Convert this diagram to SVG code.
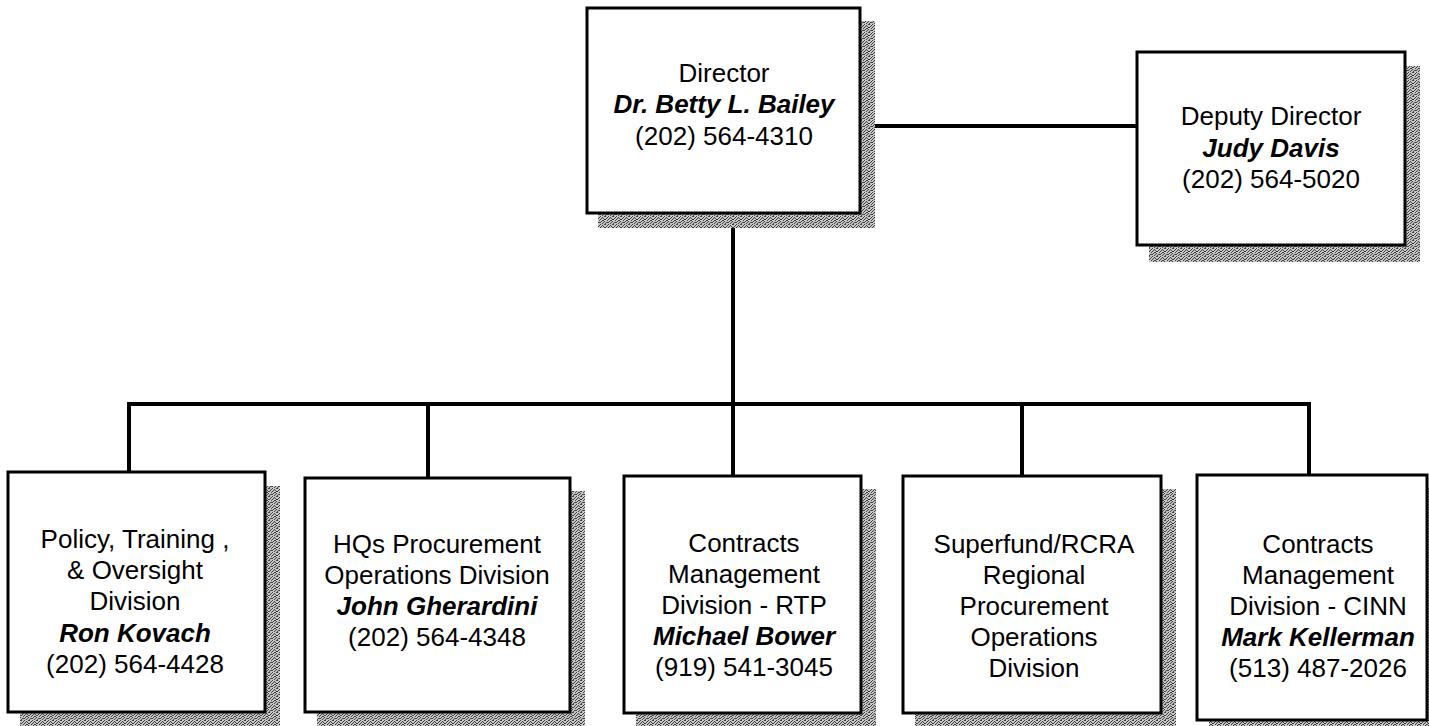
<svg xmlns="http://www.w3.org/2000/svg" width="1429" height="726" viewBox="0 0 1429 726">
  <style>
    .box { fill: #ffffff; stroke: #000000; stroke-width: 3; }
    .shadow { fill: url(#dither); }
    .conn { stroke: #000000; stroke-width: 4; fill: none; stroke-linecap: square; }
    text { font-family: "Liberation Sans", Arial, sans-serif; font-size: 26px; fill: #000000; text-anchor: middle; }
    .name { font-weight: bold; font-style: italic; }
  </style>
  <defs>
    <pattern id="dither" width="8" height="8" patternUnits="userSpaceOnUse">
      <rect width="8" height="8" fill="#c6c6c6"/>
      <path fill="#404040" d="M0 0h1v1h-1z M4 0h1v1h-1z M5 0h1v1h-1z M2 1h1v1h-1z M7 1h1v1h-1z M1 2h1v1h-1z M3 2h1v1h-1z M6 2h1v1h-1z M0 3h1v1h-1z M5 3h1v1h-1z M4 3h1v1h-1z M2 4h1v1h-1z M3 4h1v1h-1z M7 4h1v1h-1z M1 5h1v1h-1z M4 5h1v1h-1z M6 6h1v1h-1z M0 6h1v1h-1z M3 6h1v1h-1z M7 6h1v1h-1z M5 7h1v1h-1z M2 7h1v1h-1z"/>
    </pattern>
  </defs>
  <rect width="1429" height="726" fill="#ffffff"/>

  <g id="connectors">
    <line class="conn" x1="860" y1="126" x2="1136" y2="126"/>
    <line class="conn" x1="733" y1="213" x2="733" y2="404"/>
    <line class="conn" x1="129" y1="404" x2="1309" y2="404"/>
    <line class="conn" x1="129" y1="404" x2="129" y2="472"/>
    <line class="conn" x1="428" y1="404" x2="428" y2="478"/>
    <line class="conn" x1="733" y1="404" x2="733" y2="476"/>
    <line class="conn" x1="1022" y1="404" x2="1022" y2="476"/>
    <line class="conn" x1="1309" y1="404" x2="1309" y2="475"/>
  </g>

  <g id="director">
    <rect class="shadow" x="598" y="21" width="277" height="207"/>
    <rect class="box" x="587" y="8" width="273" height="205"/>
    <text x="724" y="82">Director</text>
    <text class="name" x="724" y="113">Dr. Betty L. Bailey</text>
    <text x="724" y="145">(202) 564-4310</text>
  </g>

  <g id="deputy">
    <rect class="shadow" x="1149" y="66" width="271" height="196"/>
    <rect class="box" x="1137" y="52" width="268" height="193"/>
    <text x="1271" y="125">Deputy Director</text>
    <text class="name" x="1271" y="157">Judy Davis</text>
    <text x="1271" y="188">(202) 564-5020</text>
  </g>

  <g id="policy">
    <rect class="shadow" x="20" y="486" width="260" height="240"/>
    <rect class="box" x="8" y="472" width="257" height="240"/>
    <text x="135" y="548">Policy, Training ,</text>
    <text x="135" y="579">&amp; Oversight</text>
    <text x="135" y="610">Division</text>
    <text class="name" x="135" y="642">Ron Kovach</text>
    <text x="135" y="673">(202) 564-4428</text>
  </g>

  <g id="hqs">
    <rect class="shadow" x="317" y="491" width="268" height="235"/>
    <rect class="box" x="305" y="478" width="265" height="234"/>
    <text x="437" y="553">HQs Procurement</text>
    <text x="437" y="584">Operations Division</text>
    <text class="name" x="437" y="615">John Gherardini</text>
    <text x="437" y="646">(202) 564-4348</text>
  </g>

  <g id="cmd-rtp">
    <rect class="shadow" x="636" y="489" width="240" height="237"/>
    <rect class="box" x="624" y="476" width="237" height="237"/>
    <text x="744" y="552">Contracts</text>
    <text x="744" y="583">Management</text>
    <text x="744" y="614">Division - RTP</text>
    <text class="name" x="744" y="645">Michael Bower</text>
    <text x="744" y="676">(919) 541-3045</text>
  </g>

  <g id="superfund">
    <rect class="shadow" x="915" y="489" width="261" height="237"/>
    <rect class="box" x="903" y="476" width="258" height="237"/>
    <text x="1034" y="553">Superfund/RCRA</text>
    <text x="1034" y="584">Regional</text>
    <text x="1034" y="615">Procurement</text>
    <text x="1034" y="646">Operations</text>
    <text x="1034" y="677">Division</text>
  </g>

  <g id="cmd-cinn">
    <rect class="shadow" x="1209" y="488" width="231" height="238"/>
    <rect class="box" x="1197" y="475" width="230" height="245"/>
    <text x="1318" y="553">Contracts</text>
    <text x="1318" y="584">Management</text>
    <text x="1318" y="615">Division - CINN</text>
    <text class="name" x="1318" y="646">Mark Kellerman</text>
    <text x="1318" y="677">(513) 487-2026</text>
  </g>
</svg>
